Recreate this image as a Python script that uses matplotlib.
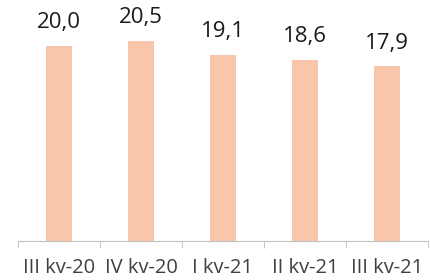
import matplotlib.pyplot as plt
import numpy as np

categories = ["III kv-20", "IV kv-20", "I kv-21", "II kv-21", "III kv-21"]
values = [20.0, 20.5, 19.1, 18.6, 17.9]

plt.rcParams['font.family'] = ['Open Sans', 'DejaVu Sans']

fig = plt.figure(figsize=(4.3, 2.8), dpi=100)
ax = fig.add_axes([0.042, 0.139, 0.953, 0.861])

x = np.arange(len(categories))
ax.bar(x, values, width=0.32, color="#F8C6AA")

for xi, v in zip(x, values):
    ax.annotate(f"{v:.1f}".replace(".", ","), (xi, v), xytext=(0, 9),
                textcoords="offset points", ha="center", va="bottom",
                fontsize=16, color="#1a1a1a")

ax.set_xlim(-0.5, len(categories) - 0.5)
ax.set_ylim(0, 24.7)
ax.set_yticks([])
for s in ["top", "right", "left"]:
    ax.spines[s].set_visible(False)
ax.spines["bottom"].set_color("#bfbfbf")

ax.set_xticks(x)
ax.set_xticklabels(categories, fontsize=14.5, color="#404040")
ax.tick_params(axis="x", length=0, pad=12)
ax.set_xticks(np.arange(-0.5, len(categories)), minor=True)
ax.tick_params(axis="x", which="minor", length=5, color="#bfbfbf")

fig.savefig("out.png", dpi=100)
